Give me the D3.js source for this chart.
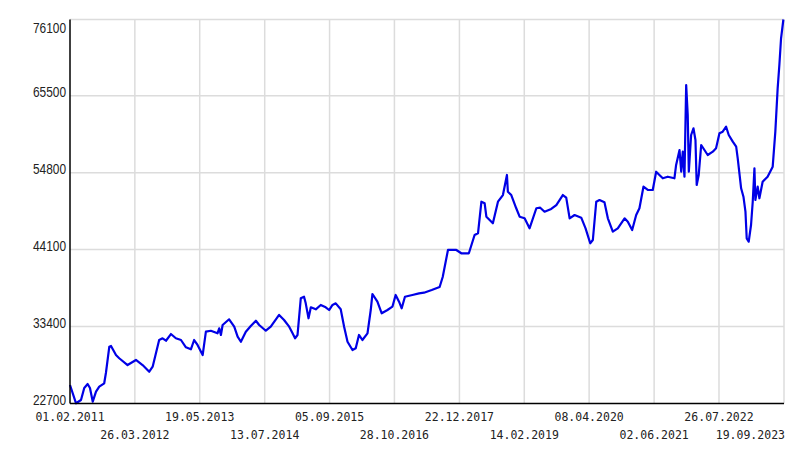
<!DOCTYPE html>
<html><head><meta charset="utf-8">
<script src="https://cdn.jsdelivr.net/npm/d3@7"></script>
<style>
html,body{margin:0;padding:0;background:#fff;}
svg{display:block;}
</style></head>
<body>
<svg id="chart" width="803" height="453"></svg>
<script>
// Series: days since 01.02.2011 and value
const dayOffsets = [0,39,71,92,114,129,147,168,189,221,232,254,265,297,318,372,426,469,512,534,
576,598,620,652,684,717,749,781,802,824,857,878,910,953,964,975,986,1028,1061,1083,
1104,1136,1168,1201,1222,1265,1297,1351,1383,1416,1438,1454,1470,1491,1512,1523,1541,1556,1588,1620,
1652,1674,1696,1717,1749,1771,1793,1825,1846,1867,1889,1922,1943,1954,1986,2014,2051,2083,2104,2126,
2143,2164,2212,2255,2287,2337,2388,2408,2442,2496,2528,2577,2614,2636,2658,2679,2690,2732,2765,2797,
2823,2829,2851,2883,2905,2937,2969,3013,3038,3066,3109,3142,3184,3206,3228,3260,3303,3331,3361,3378,
3400,3421,3453,3475,3507,3539,3583,3604,3632,3658,3679,3705,3733,3765,3787,3808,3830,3862,3905,3916,
3938,3949,3959,3970,3981,3991,3998,4013,4028,4041,4049,4062,4078,4099,4120,4153,4174,4196,4217,4239,
4256,4282,4304,4314,4336,4351,4364,4372,4385,4400,4411,4422,4428,4443,4454,4475,4507,4540,4557,4572,
4583,4594,4609];
const values = [25270,22730,23190,24860,25410,24860,22950,24340,25040,25510,26940,30600,30700,29440,28990,28050,28750,28050,27120,27820,
31530,31770,31430,32360,31770,31530,30520,30240,31530,30840,29440,32690,32820,32460,33160,32230,33620,34410,33380,31990,
31290,32690,33480,34210,33620,32820,33380,35010,34310,33380,32460,31770,32230,37330,37550,36630,34550,36080,35800,36400,
36080,35700,36400,36630,35800,33380,31290,30140,30380,32230,31530,32460,35700,37930,36860,35240,35700,36160,37790,36860,
35940,37550,37790,38020,38110,38480,38900,40290,44050,44050,43590,43590,46130,46370,50760,50540,48680,47760,50760,51690,
54480,52150,51690,49850,48680,48450,47060,49850,49930,49370,49750,50300,51690,51320,48450,48910,48540,47060,44980,45440,
50760,51000,50680,48450,46590,47060,48450,47980,46830,48910,49850,52850,52390,52390,54930,54480,54020,54240,54020,55870,
57950,54930,57720,54240,66990,62820,54930,60040,60970,59340,53090,54480,58650,57950,57260,57720,58190,60270,60500,61190,
60040,59110,58410,56800,52630,51460,49370,45670,45200,47520,50760,55410,51000,52850,51240,53540,54240,55630,60500,66530,
69770,73490,76100];

const startDate = "01.02.2011";
const xTickLabels = ["01.02.2011","26.03.2012","19.05.2013","13.07.2014","05.09.2015","28.10.2016",
  "22.12.2017","14.02.2019","08.04.2020","02.06.2021","26.07.2022","19.09.2023"];
const yTickValues = [22700,33400,44100,54800,65500,76100];

const parse = d3.timeParse("%d.%m.%Y");
const fmt = d3.timeFormat("%d.%m.%Y");
const t0 = parse(startDate);
const data = dayOffsets.map((d,i)=>({date:d3.timeDay.offset(t0,d), value:values[i]}));
const xTicks = xTickLabels.map(parse);

const L=70, R=784, T=19.5, B=403.5;
const svg = d3.select("#chart");
const x = d3.scaleTime().domain([xTicks[0], xTicks[xTicks.length-1]]).range([L,R]);
const y = d3.scaleLinear().domain([22700,76100]).range([B,T]);

// grid
const grid = svg.append("g");
grid.selectAll("line.v").data(xTicks.slice(1)).join("line")
  .attr("x1",d=>x(d)).attr("x2",d=>x(d)).attr("y1",T).attr("y2",B)
  .attr("stroke","#dcdcdc").attr("stroke-width",1.5);
grid.selectAll("line.h").data(yTickValues.slice(1)).join("line")
  .attr("x1",L).attr("x2",R).attr("y1",d=>y(d)).attr("y2",d=>y(d))
  .attr("stroke","#dcdcdc").attr("stroke-width",1.5);

// line
svg.append("path").datum(data)
  .attr("fill","none").attr("stroke","#0000e6").attr("stroke-width",2.2)
  .attr("stroke-linejoin","round")
  .attr("d", d3.line().x(d=>x(d.date)).y(d=>y(d.value)));

// axes lines
svg.append("line").attr("x1",L).attr("x2",L).attr("y1",T).attr("y2",B)
  .attr("stroke","#000").attr("stroke-width",1.5);
svg.append("line").attr("x1",L).attr("x2",R).attr("y1",B).attr("y2",B)
  .attr("stroke","#000").attr("stroke-width",1.5);

// y labels (condensed look)
svg.selectAll("text.yl").data(yTickValues).join("text")
  .attr("transform",d=>`translate(66,${Math.max(y(d)+1,33)}) scale(0.85,1)`)
  .attr("text-anchor","end")
  .attr("font-family","'Liberation Sans',Arial,sans-serif")
  .attr("font-size","14px").attr("fill","#222")
  .text(d=>d);

// x labels
svg.selectAll("text.xl").data(xTicks).join("text")
  .attr("x",(d,i)=> i===xTicks.length-1 ? R+1 : x(d))
  .attr("y",(d,i)=> i%2===0 ? 420.5 : 439)
  .attr("text-anchor",(d,i)=> i===xTicks.length-1 ? "end" : "middle")
  .attr("font-family","'DejaVu Sans Mono','Liberation Mono',monospace")
  .attr("font-size","11.5px").attr("fill","#222")
  .text(d=>fmt(d));
</script>
</body></html>
